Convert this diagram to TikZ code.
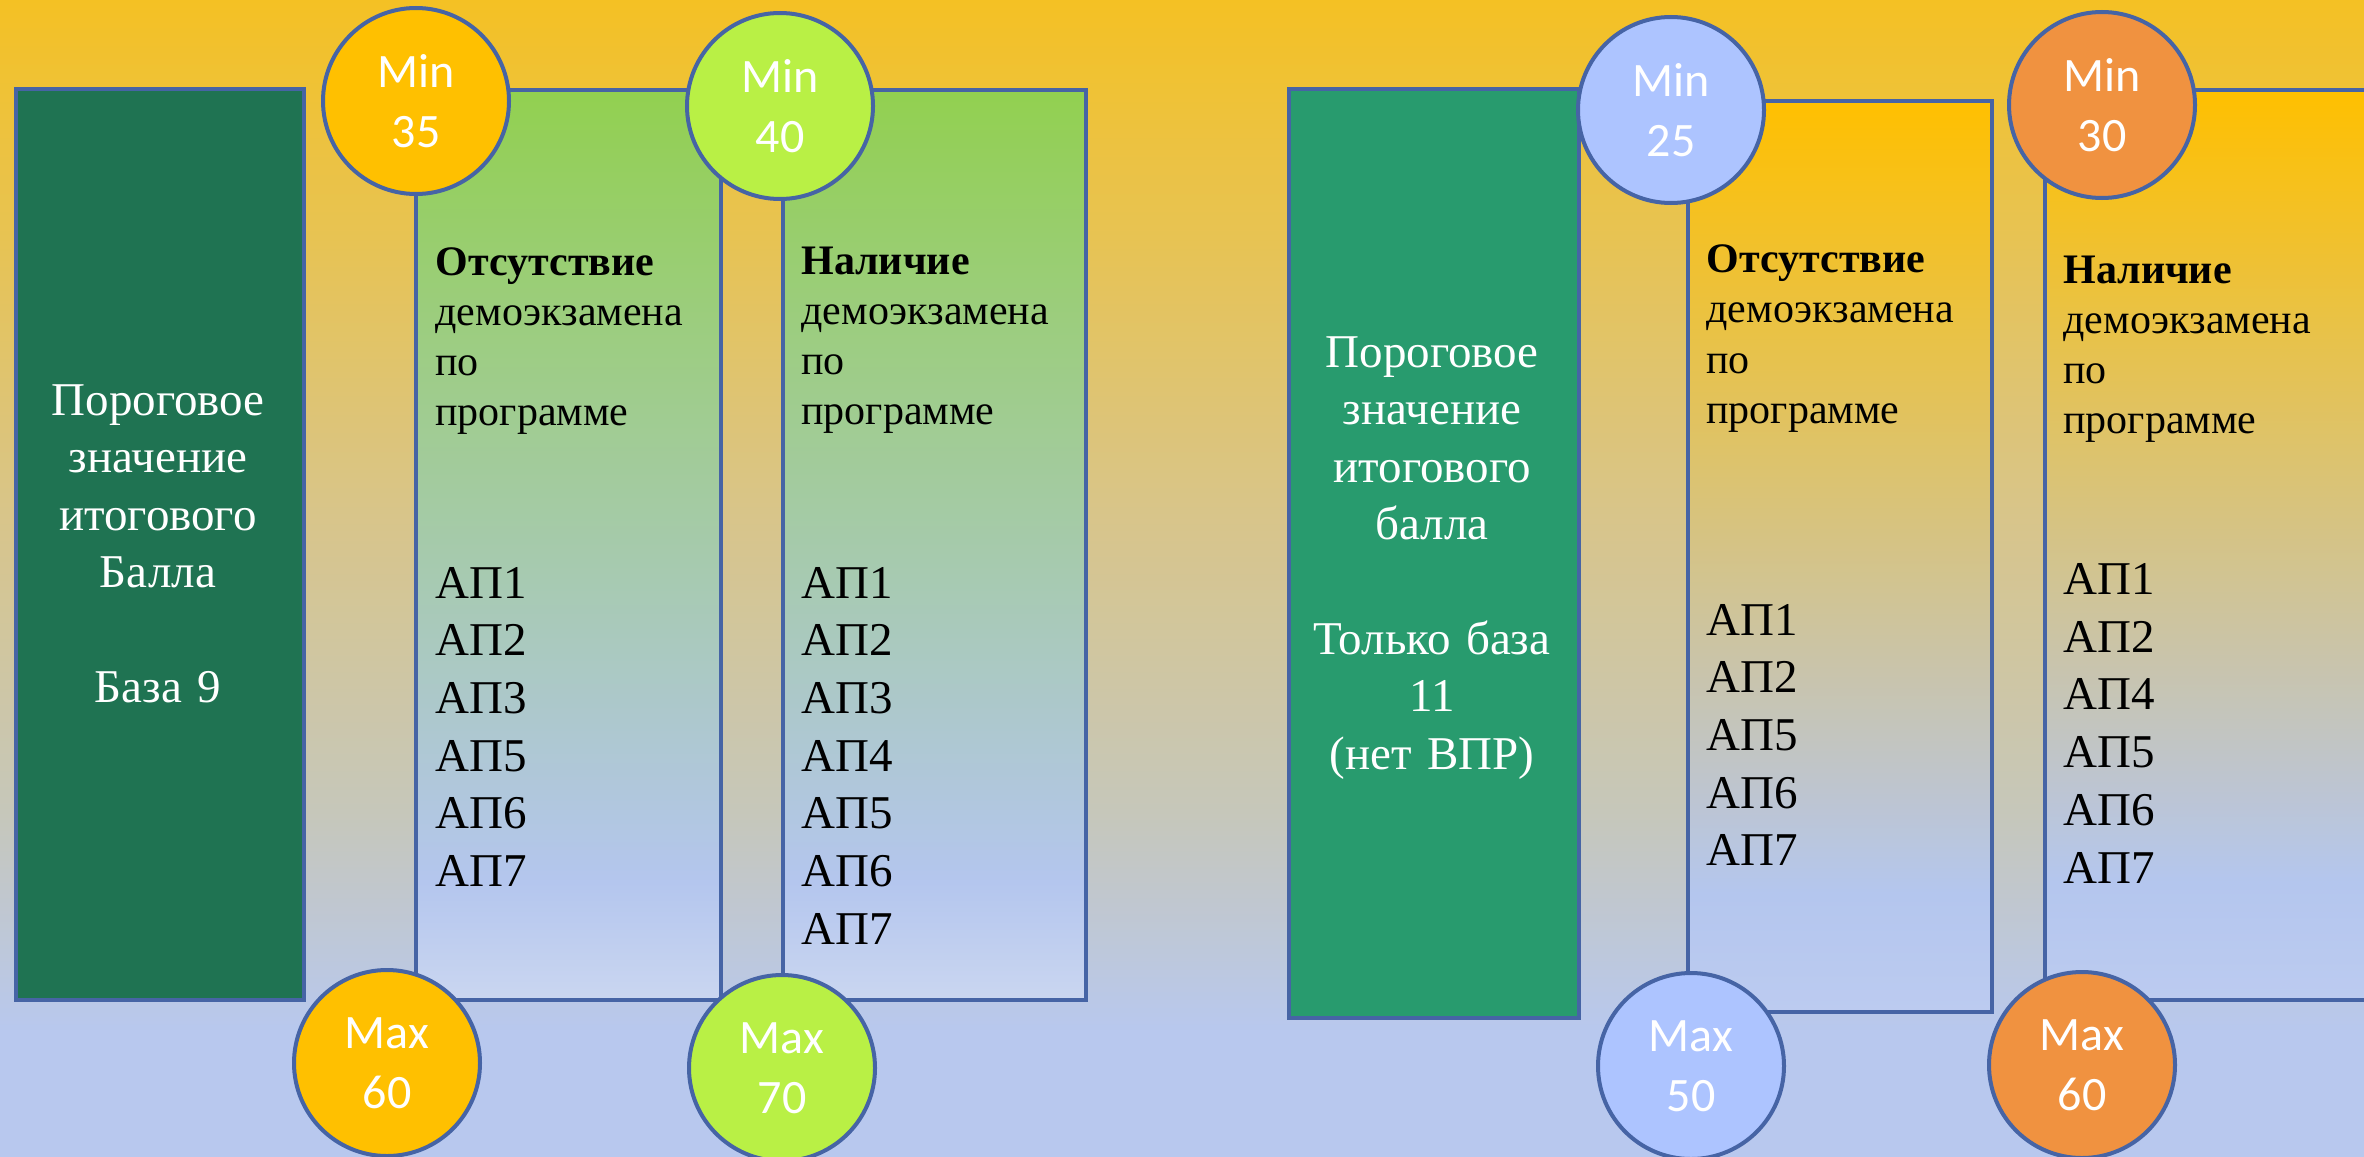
\documentclass[tikz,border=0pt]{standalone}
\usepackage{fontspec}
\setmainfont{Liberation Serif}
\newfontfamily\carlito{Carlito}
\definecolor{bgGold}{RGB}{244,193,36}
\definecolor{bgTan}{RGB}{216,197,138}
\definecolor{bgGray}{RGB}{198,199,186}
\definecolor{bgLav}{RGB}{184,200,238}
\definecolor{grTop}{RGB}{146,208,80}
\definecolor{goldTop}{RGB}{255,192,0}
\definecolor{lavMid}{RGB}{180,198,238}
\definecolor{lavLight}{RGB}{202,214,240}
\definecolor{lavLightB}{RGB}{188,203,240}
\definecolor{darkGreen}{RGB}{31,115,82}
\definecolor{midGreen}{RGB}{40,155,110}
\definecolor{bord}{RGB}{70,100,165}
\definecolor{cGold}{RGB}{255,192,0}
\definecolor{cLime}{RGB}{185,240,69}
\definecolor{cPeri}{RGB}{173,196,255}
\definecolor{cOrange}{RGB}{240,146,64}
\pgfdeclareverticalshading{bgshade}{100bp}{color(0bp)=(bgLav); color(30.4bp)=(bgLav); color(39.9bp)=(bgGray); color(52.7bp)=(bgTan); color(75bp)=(bgGold); color(100bp)=(bgGold)}
\pgfdeclareverticalshading{greenshade}{100bp}{color(0bp)=(lavLight); color(25bp)=(lavLight); color(31.5bp)=(lavMid); color(75bp)=(grTop); color(100bp)=(grTop)}
\pgfdeclareverticalshading{goldshade}{100bp}{color(0bp)=(lavLightB); color(25bp)=(lavLightB); color(31.5bp)=(lavMid); color(75bp)=(goldTop); color(100bp)=(goldTop)}
\tikzset{
  panel/.style={draw=bord, line width=2pt, rectangle, anchor=north west, inner sep=0pt},
  disc/.style={circle, draw=bord, line width=2pt, minimum size=93pt, inner sep=0pt,
    text=white, align=center, font=\carlito\fontsize{24}{30}\selectfont},
  boxtext/.style={anchor=base, inner sep=0pt, text width=142pt, align=center, text=white,
    font=\fontsize{23.5}{28.75}\selectfont},
  headtext/.style={anchor=base west, inner sep=0pt, text width=145pt, align=left,
    font=\fontsize{21}{25.15}\selectfont},
  aptext/.style={anchor=base west, inner sep=0pt, text width=100pt, align=left,
    font=\fontsize{23.5}{28.85}\selectfont},
}
\begin{document}
\begin{tikzpicture}[x=0.5pt, y=-0.5pt]
\useasboundingbox (0,0) rectangle (2364,1156);
\clip (0,0) rectangle (2364,1156);
\shade[shading=bgshade] (0,0) rectangle (2364,1156);

% boxes
\node[panel, fill=darkGreen, minimum width=144pt, minimum height=455.5pt] (g1) at (14,87) {};
\node[panel, shading=greenshade, minimum width=152.5pt, minimum height=455pt] (c1) at (414,88) {};
\node[panel, shading=greenshade, minimum width=151.5pt, minimum height=455pt] (c2) at (781,88) {};
\node[panel, fill=midGreen, minimum width=145pt, minimum height=464.5pt] (g2) at (1287,87) {};
\node[panel, shading=goldshade, minimum width=152pt, minimum height=455.5pt] (c3) at (1686,99) {};
\node[panel, shading=goldshade, minimum width=200pt, minimum height=455pt] (c4) at (2043,88) {};

% green box texts
\node[boxtext] (g1t) at (158,415) {Пороговое\\значение\\итогового\\Балла\\[28.75pt]База 9};
\node[boxtext] (g2t) at (1432,367) {Пороговое\\значение\\итогового\\балла\\[28.5pt]Только база\\11\\(нет ВПР)};

% column texts
\node[headtext] (c1h) at (435,275) {\textbf{Отсутствие}\\демоэкзамена\\по\\программе};
\node[aptext] (c1a) at (435,598) {АП1\\АП2\\АП3\\АП5\\АП6\\АП7};
\node[headtext] (c2h) at (801,274) {\textbf{Наличие}\\демоэкзамена\\по\\программе};
\node[aptext] (c2a) at (801,598) {АП1\\АП2\\АП3\\АП4\\АП5\\АП6\\АП7};
\node[headtext] (c3h) at (1706,272.5) {\textbf{Отсутствие}\\демоэкзамена\\по\\программе};
\node[aptext] (c3a) at (1706,635) {АП1\\АП2\\АП5\\АП6\\АП7};
\node[headtext] (c4h) at (2063,283) {\textbf{Наличие}\\демоэкзамена\\по\\программе};
\node[aptext] (c4a) at (2063,594.5) {АП1\\АП2\\АП4\\АП5\\АП6\\АП7};

% circles
\node[disc, fill=cGold] (min35) at (416,101) {Min\\35};
\node[disc, fill=cLime] (min40) at (780,106) {Min\\40};
\node[disc, fill=cGold] (max60a) at (387,1063) {Max\\60};
\node[disc, fill=cLime] (max70) at (782,1068) {Max\\70};
\node[disc, fill=cPeri] (min25) at (1671,110) {Min\\25};
\node[disc, fill=cOrange] (min30) at (2102,105) {Min\\30};
\node[disc, fill=cPeri] (max50) at (1691,1066) {Max\\50};
\node[disc, fill=cOrange] (max60b) at (2082,1065) {Max\\60};
\end{tikzpicture}
\end{document}
